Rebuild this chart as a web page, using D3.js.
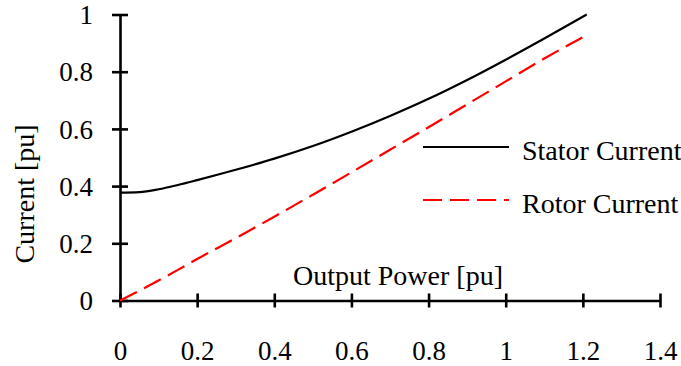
<!DOCTYPE html>
<html>
<head>
<meta charset="utf-8">
<script src="https://cdn.jsdelivr.net/npm/d3@7"></script>
<style>
  html, body { margin: 0; padding: 0; background: #fff; }
  svg { display: block; }
  text { font-family: "Liberation Serif", "Times New Roman", serif; fill: #000; }
</style>
</head>
<body>
<svg id="chart" width="681" height="366"></svg>
<script>
// Output power (pu) sample points
const power = [0, 0.05, 0.1, 0.15, 0.2, 0.3, 0.4, 0.5, 0.6, 0.7, 0.8, 0.9, 1.0, 1.1, 1.21];
// Stator current (pu)
const statorCurrent = [0.377, 0.379, 0.389, 0.404, 0.421, 0.457, 0.496, 0.540, 0.590, 0.645, 0.705, 0.771, 0.842, 0.916, 1.0];
// Rotor current (pu)
const rotorCurrent = [0, 0.034, 0.07, 0.107, 0.145, 0.218, 0.293, 0.37, 0.448, 0.527, 0.606, 0.686, 0.766, 0.846, 0.928];

const xTicks = [0, 0.2, 0.4, 0.6, 0.8, 1, 1.2, 1.4];
const yTicks = [0, 0.2, 0.4, 0.6, 0.8, 1];

const seriesNames = ["Stator Current", "Rotor Current"];
const seriesColors = ["#000000", "#ff0000"];

const svg = d3.select("#chart");

const x = d3.scaleLinear().domain([0, 1.4]).range([120, 660]);
const y = d3.scaleLinear().domain([0, 1]).range([300.5, 14.5]);

const fmt = d => String(d);

// Axes
const xAxis = d3.axisBottom(x).tickValues(xTicks).tickSize(0).tickFormat(fmt);
const yAxis = d3.axisLeft(y).tickValues(yTicks).tickSize(0).tickFormat(fmt);

const gx = svg.append("g").attr("transform", `translate(0,${y(0)})`).call(xAxis);
gx.select(".domain").attr("stroke", "#000").attr("stroke-width", 2.6);
gx.selectAll(".tick line").remove();
gx.selectAll(".tick").append("line")
  .attr("y1", -7).attr("y2", 7)
  .attr("stroke", "#000").attr("stroke-width", 2.6);
gx.selectAll(".tick text")
  .attr("y", 59).attr("dy", 0)
  .style("font-size", "27px")
  .style("font-family", "'Liberation Serif', serif")
  .attr("fill", "#000");

const gy = svg.append("g").attr("transform", `translate(${x(0)},0)`).call(yAxis);
gy.select(".domain").attr("stroke", "#000").attr("stroke-width", 2.6);
gy.selectAll(".tick line").remove();
gy.selectAll(".tick").append("line")
  .attr("x1", -8).attr("x2", 8)
  .attr("stroke", "#000").attr("stroke-width", 2.6);
gy.selectAll(".tick text")
  .attr("x", -27).attr("dy", "0.34em")
  .style("font-size", "27px")
  .style("font-family", "'Liberation Serif', serif")
  .attr("fill", "#000");

// Axis titles
svg.append("text")
  .attr("x", 293).attr("y", 285)
  .style("font-size", "28px")
  .text("Output Power [pu]");

svg.append("text")
  .attr("transform", "translate(34,194) rotate(-90)")
  .attr("text-anchor", "middle")
  .style("font-size", "28px")
  .text("Current [pu]");

// Curves
const line = d3.line().x(d => x(d[0])).y(d => y(d[1])).curve(d3.curveMonotoneX);
const statorPts = power.map((p, i) => [p, statorCurrent[i]]);
const rotorPts = power.map((p, i) => [p, rotorCurrent[i]]);

svg.append("path")
  .attr("d", line(statorPts))
  .attr("fill", "none")
  .attr("stroke", seriesColors[0])
  .attr("stroke-width", 2.2);

svg.append("path")
  .attr("d", line(rotorPts))
  .attr("fill", "none")
  .attr("stroke", seriesColors[1])
  .attr("stroke-width", 2.2)
  .attr("stroke-dasharray", "19,8");

// Legend
const legend = svg.append("g");
const legendRows = [147, 200];
seriesNames.forEach((name, i) => {
  const ly = legendRows[i];
  legend.append("line")
    .attr("x1", 423).attr("x2", 509)
    .attr("y1", ly).attr("y2", ly)
    .attr("stroke", seriesColors[i])
    .attr("stroke-width", 2.2)
    .attr("stroke-dasharray", i === 1 ? "19,8" : null);
  legend.append("text")
    .attr("x", 522).attr("y", ly + 13)
    .style("font-size", "28px")
    .text(name);
});
</script>
</body>
</html>
